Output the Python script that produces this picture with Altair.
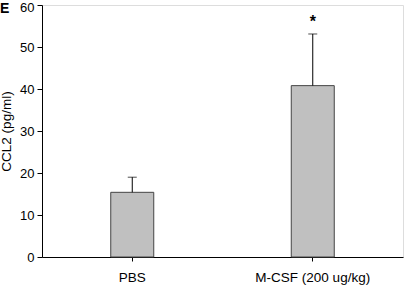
import altair as alt
import pandas as pd

groups = ["PBS", "M-CSF (200 ug/kg)"]
means = [15.4, 40.8]
errors = [3.6, 12.3]
marks = ["", "*"]
y_ticks = [0, 10, 20, 30, 40, 50, 60]

df = pd.DataFrame({
    "group": groups,
    "mean": means,
    "err": errors,
    "mark": marks,
})
df["top"] = df["mean"] + df["err"]

FONT = "Liberation Sans"

x_enc = alt.X(
    "group:N",
    sort=groups,
    scale=alt.Scale(paddingInner=0, paddingOuter=0),
    axis=alt.Axis(
        title=None, labelAngle=0, labelFont=FONT, labelFontSize=13.5,
        labelColor="black", tickColor="black", tickSize=4, labelPadding=9,
        domainColor="black",
    ),
)
y_scale = alt.Scale(domain=[0, 60], nice=False, zero=True)

base = alt.Chart(df)

bars = base.mark_bar(size=43, color="#c0c0c0", stroke="#444444", strokeWidth=1).encode(
    x=x_enc,
    y=alt.Y(
        "mean:Q",
        scale=y_scale,
        axis=alt.Axis(
            title="CCL2 (pg/ml)", values=y_ticks, grid=False, labelFont=FONT,
            labelFontSize=13, labelColor="black", tickColor="black", tickSize=5,
            labelPadding=3, domainColor="black", titleFont=FONT, titleFontSize=13.5,
            titleFontWeight="normal", titleColor="black", titleX=-29, titleY=126,
            labelOffset={"condition": {"test": "datum.value === 60", "value": 2}, "value": 0},
        ),
    ),
)

err_line = base.mark_rule(color="black", strokeWidth=1).encode(
    x=alt.X("group:N", sort=groups),
    y="mean:Q",
    y2="top:Q",
)

err_cap = base.mark_tick(color="black", size=9, thickness=1, orient="horizontal").encode(
    x=alt.X("group:N", sort=groups),
    y="top:Q",
)

star = base.mark_text(font=FONT, fontSize=16, fontWeight="bold", color="black",
                      baseline="alphabetic", dy=-7).encode(
    x=alt.X("group:N", sort=groups),
    y="top:Q",
    text="mark:N",
)

panel = alt.Chart(pd.DataFrame({"t": ["E"]})).mark_text(
    font=FONT, fontSize=14, fontWeight="bold", color="black", align="left", baseline="alphabetic"
).encode(x=alt.value(-42), y=alt.value(8), text="t:N")

chart = alt.layer(bars, err_line, err_cap, star, panel).properties(
    width=361, height=252,
    autosize=alt.AutoSizeParams(type="none"),
    padding={"left": 42, "top": 5, "right": 1, "bottom": 28},
).configure_view(stroke="black", strokeWidth=1).configure(background="white")

chart.save("out.html", embed_options={"renderer": "svg", "actions": False})
